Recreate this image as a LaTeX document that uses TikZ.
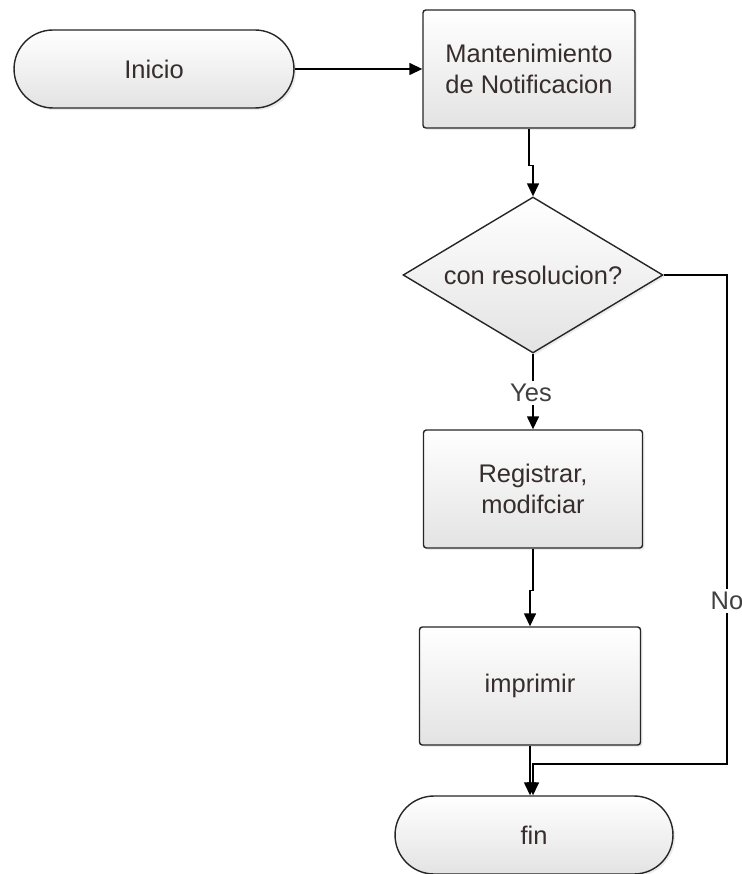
\documentclass[tikz,border=0pt]{standalone}
\usepackage{fontspec}
\setmainfont{Liberation Sans}
\usepackage{xcolor}
\usepackage{tikz}
\usetikzlibrary{arrows.meta,calc,shapes,shadows,positioning}

\definecolor{txtgray}{RGB}{55,45,45}

\begin{document}
\begin{tikzpicture}[x=0.02cm,y=-0.02cm,
  base/.style={draw=black!85, line width=0.8pt, text=txtgray, top color=white, bottom color=gray!22,
    font=\fontsize{14.5}{18}\selectfont, align=center, inner sep=0pt,
    drop shadow={opacity=0.15, shadow xshift=1.2pt, shadow yshift=-1.2pt}},
  termnode/.style={base, rounded rectangle, minimum height=1.56cm},
  procbox/.style={base, rectangle, rounded corners=1.6pt, minimum width=4.3cm, minimum height=2.36cm},
  decision/.style={base, diamond, aspect=1.667, minimum width=5.2cm, minimum height=3.12cm},
  flow/.style={line width=0.8pt, -{Triangle[length=0.26cm,width=0.24cm]}},
  lbl/.style={fill=white, text=black!75, inner sep=2pt, font=\fontsize{14.5}{18}\selectfont}]

\useasboundingbox (0,0) rectangle (741,874);

\node[termnode, minimum width=5.6cm] (inicio) at (154,69) {Inicio};

  \node[procbox, minimum width=4.24cm] (mant) at (529,69) {Mantenimiento\\de Notificacion};

  \node[decision] (dec) at (533,275) {con resolucion?};

   \node[procbox, minimum width=4.38cm] (reg) at (533,489) {Registrar,\\modifciar};

  \node[procbox, minimum width=4.42cm] (imp) at (530,686) {imprimir};

\node[termnode, minimum width=5.56cm] (fin) at (534,835) {fin};

\coordinate (nocorner) at (727,764);

\draw[flow] (inicio.east) -- (mant.west);

  \draw[flow] (mant.south) -- ++(0,37) -| (dec.north);

  \draw[flow] (dec.south) -- (dec.south |- reg.north);
  \node[lbl] (yes) at (531,393) {Yes};

  \draw[flow] (reg.south) -- ++(0,42) -| (imp.south |- imp.north);

  \draw[flow] (imp.south) -- (imp.south |- fin.north);

  \draw[flow] (dec.east) -| (nocorner) -| ($(imp.south |- fin.north)+(3,0)$);
  \node[lbl] (no) at (727,601) {No};

	\end{tikzpicture}
\end{document}
